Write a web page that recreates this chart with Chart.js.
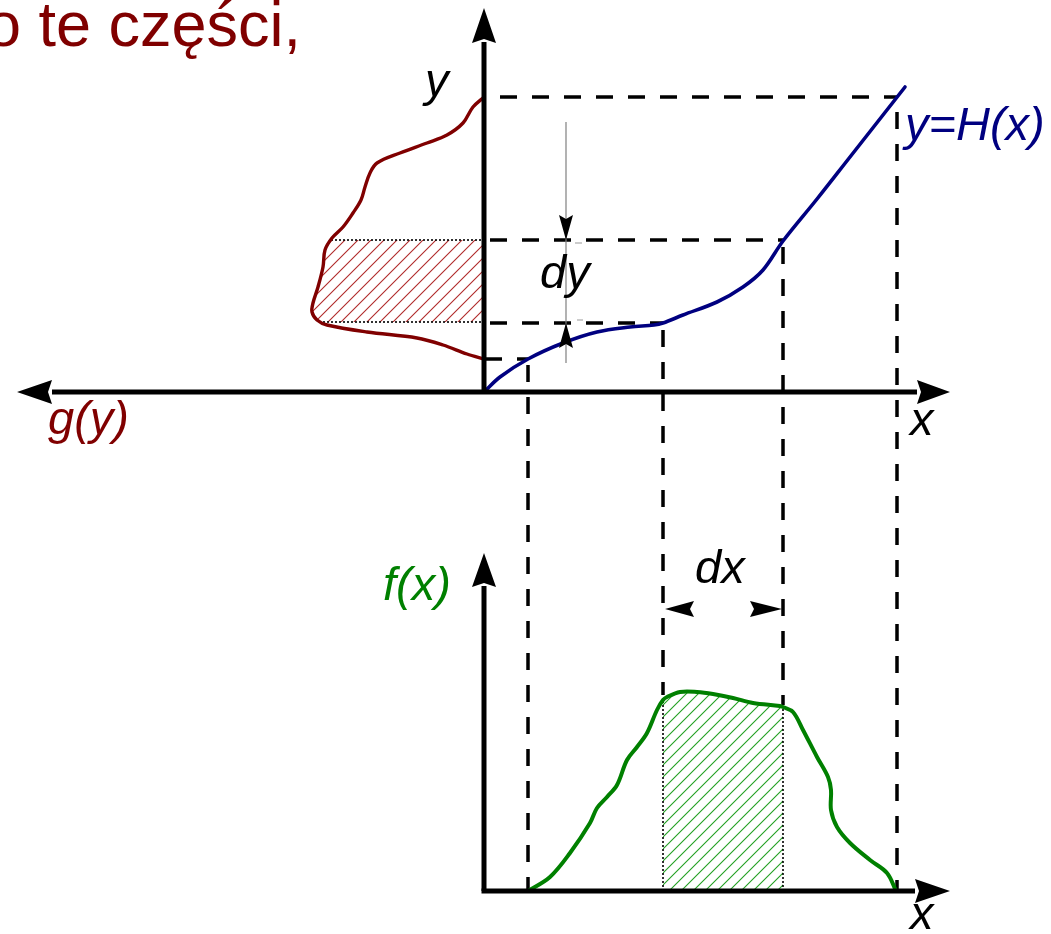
<!DOCTYPE html>
<html><head><meta charset="utf-8">
<script src="https://cdn.jsdelivr.net/npm/chart.js@4/dist/chart.umd.min.js"></script>
<style>html,body{margin:0;padding:0;background:#fff;overflow:hidden}#wrap{width:1051px;height:934px;position:relative}</style>
</head><body><div id="wrap"><canvas id="c"></canvas></div>
<script>
// ---- data (x: horizontal units from the vertical axis; y: top plot units, y2: bottom plot units) ----
const hCurve = [[0,0],[16,15],[44,33],[79,49],[113,60],[146,65],[170,67],[179,69],[199,77],[233,90],[259,105],[279,122],[299,151],[333,193],[366,235],[399,277],[421,305]];
const gCurve = [[0,295],[-11,285],[-21,269],[-37,257],[-57,249],[-84,239],[-107,229],[-114,219],[-119,205],[-123,192],[-131,179],[-141,165],[-152,154],[-159,142],[-161,125],[-166,105],[-171,89],[-172,80],[-167,72],[-157,67],[-117,60],[-67,54],[-41,47],[-17,38],[0,33]];
const gRegion = [[-153,152],[-159,142],[-161,125],[-166,105],[-171,89],[-172,80],[-165,70]];
const fCurve = [[44,0],[66,14],[86,38],[106,68],[113,83],[123,94],[133,106],[143,131],[153,144],[163,158],[173,181],[179,191],[183,194],[196,199],[213,199],[229,197],[249,193],[269,188],[296,185],[299,184],[309,179],[319,161],[333,134],[344,114],[347,101],[347,81],[353,64],[366,48],[386,31],[403,18],[412,0]];
const fRegion = [[179,191],[183,194],[196,199],[213,199],[229,197],[249,193],[269,188],[296,185],[299,184]];

const dashedH = [[[16,295],[413,295]],[[6,152],[299,152]],[[6,69],[179,69]],[[1,33],[44,33]]];
const dashedV = [[[413,280],[413,-499]],[[299,145],[299,-313]],[[179,62],[179,-303]],[[44,27],[44,-499]]];
const dottedTop = [[[-153,152],[0,152]],[[-165,70],[0,70]]];
const dottedBottom = [[[179,0],[179,191]],[[299,0],[299,184]]];
const dyGuide = [[82,270],[82,29]];
const dyTicks = [[[91,149],[98,149]],[[93,72],[99,72]]];

const axesTop = [[[-432,0],[433,0]],[[0,0],[0,350]]];
const axesBottom = [[[-2.5,0],[431,0]],[[0,0],[0,305]]];

const arrowsTop = [
  [[433,12],[437,0],[433,-12],[466,0]],
  [[-467,0],[-432,12],[-436,0],[-432,-12]],
  [[-12,349],[0,384],[12,349],[0,353],[-12,349],[12,349]],
  [[75,177],[82,152],[89,177],[82,173],[75,177],[89,177]],
  [[75,44],[82,69],[89,44],[82,48],[75,44],[89,44]]
];
const arrowsBottom = [
  [[431,12],[435,0],[431,-12],[466,0]],
  [[-12,304],[0,338],[12,304],[0,308],[-12,304],[12,304]],
  [[181,282],[210,290],[206,282],[210,274]],
  [[266,290],[270,282],[266,274],[298,282]]
];

const labelTexts = ['o te części,','y','y=H(x)','x','g(y)','dy','f(x)','dx','x'];
const labelPos = [[-498,346,'y'],[-59,296,'y'],[421,252,'y'],[426,-43,'y'],[-436,-42,'y'],[56,104,'y'],[-101,291,'y2'],[211,308,'y2'],[426,-38,'y2']];

// ---- styling ----
const RED = '#800000', NAVY = '#000080', GREEN = '#008000';
const IT = 'italic 47px "Liberation Sans", Arial, sans-serif';
const labelStyle = [
  {font:'63px "Liberation Sans", Arial, sans-serif', color:RED},
  {font:IT, color:'#000'},
  {font:IT, color:NAVY},
  {font:IT, color:'#000'},
  {font:IT, color:RED},
  {font:IT, color:'#000'},
  {font:IT, color:GREEN},
  {font:IT, color:'#000'},
  {font:IT, color:'#000'}
];

function hatch(color, s){
  const c = document.createElement('canvas'); c.width = s; c.height = s;
  const g = c.getContext('2d');
  g.strokeStyle = color; g.lineWidth = 1.1;
  g.beginPath();
  g.moveTo(0,s); g.lineTo(s,0);
  g.moveTo(-1,1); g.lineTo(1,-1);
  g.moveTo(s-1,s+1); g.lineTo(s+1,s-1);
  g.stroke();
  return g.createPattern(c,'repeat');
}
const pts = a => a.map(p => ({x:p[0], y:p[1]}));
function ds(arr, o){
  return Object.assign({data:pts(arr), pointRadius:0, pointHoverRadius:0, borderWidth:2, borderColor:'#000', backgroundColor:'transparent', fill:false, tension:0, yAxisID:'y', order:3}, o);
}

const datasets = [];
arrowsTop.forEach(a => datasets.push(ds(a,{fill:'shape', backgroundColor:'#000', borderWidth:0, order:0})));
arrowsBottom.forEach(a => datasets.push(ds(a,{fill:'shape', backgroundColor:'#000', borderWidth:0, yAxisID:'y2', order:0})));
axesTop.forEach(a => datasets.push(ds(a,{borderWidth:5, order:1})));
axesBottom.forEach(a => datasets.push(ds(a,{borderWidth:5, yAxisID:'y2', order:1})));
datasets.push(ds(hCurve,{borderColor:NAVY, borderWidth:3.6, tension:0.35, borderCapStyle:'round', order:2}));
datasets.push(ds(gCurve,{borderColor:RED, borderWidth:3.4, tension:0.35, borderCapStyle:'round', order:2}));
datasets.push(ds(fCurve,{borderColor:GREEN, borderWidth:4, tension:0.35, borderCapStyle:'round', yAxisID:'y2', order:2}));
datasets.push(ds(dyGuide,{borderColor:'#808080', borderWidth:1.2, order:3}));
dyTicks.forEach(a => datasets.push(ds(a,{borderColor:'#999', borderWidth:1, order:3})));
dashedH.concat(dashedV).forEach(a => datasets.push(ds(a,{borderWidth:3.5, borderDash:[17,15], order:4})));
dottedTop.forEach(a => datasets.push(ds(a,{borderWidth:1.6, borderDash:[2,2], order:5})));
dottedBottom.forEach(a => datasets.push(ds(a,{borderWidth:1.6, borderDash:[2,2], yAxisID:'y2', order:5})));
datasets.push(ds(gRegion,{indexAxis:'y', fill:{value:0}, backgroundColor:hatch('#b02a2a',13), borderWidth:1.6, borderDash:[2,2], tension:0.35, order:6}));
datasets.push(ds(fRegion,{fill:{value:0}, backgroundColor:hatch('#23a023',12), borderWidth:1.6, borderDash:[2,2], tension:0.35, yAxisID:'y2', order:6}));

const labelPlugin = {
  id:'labels',
  afterDatasetsDraw(chart){
    const ctx = chart.ctx, xs = chart.scales.x;
    labelTexts.forEach((t,i) => {
      const p = labelPos[i], s = labelStyle[i];
      ctx.save();
      ctx.font = s.font; ctx.fillStyle = s.color;
      ctx.textAlign = 'left'; ctx.textBaseline = 'alphabetic';
      ctx.fillText(t, xs.getPixelForValue(p[0]), chart.scales[p[2]].getPixelForValue(p[1]));
      ctx.restore();
    });
  }
};

new Chart(document.getElementById('c'), {
  type:'line',
  data:{datasets},
  options:{
    responsive:true, maintainAspectRatio:false, animation:false, events:[],
    layout:{padding:0},
    plugins:{legend:{display:false}, tooltip:{enabled:false}},
    scales:{
      x:{type:'linear', min:-484, max:567, display:false},
      y:{type:'linear', min:-542, max:392, display:false},
      y2:{type:'linear', min:-43, max:891, display:false}
    }
  },
  plugins:[labelPlugin]
});
</script></body></html>
